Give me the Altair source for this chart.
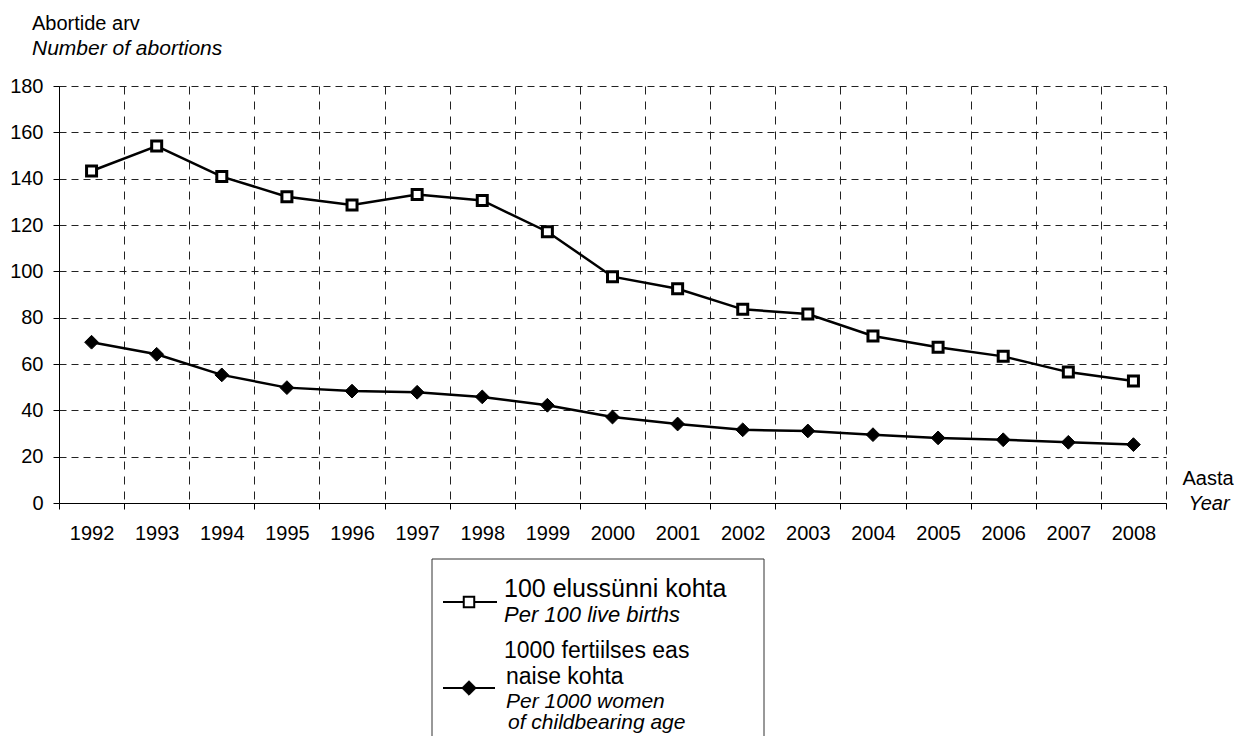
import altair as alt
import pandas as pd

years = list(range(1992, 2009))
per_100_births = [143.3, 154.1, 140.9, 132.2, 128.6, 133.2, 130.6, 117.1, 97.7,
                  92.5, 83.6, 81.6, 72.1, 67.2, 63.3, 56.5, 52.7]
per_1000_women = [69.4, 64.2, 55.3, 49.8, 48.3, 47.8, 45.8, 42.2, 37.1,
                  34.1, 31.6, 31.1, 29.5, 28.1, 27.3, 26.2, 25.2]
y_ticks = list(range(0, 181, 20))

FONT = "Liberation Sans"
W, H = 1107, 417

df1 = pd.DataFrame({"year": years, "value": per_100_births})
df2 = pd.DataFrame({"year": years, "value": per_1000_women})
one = pd.DataFrame({"k": [0]})

bounds = [y - 0.5 for y in years] + [years[-1] + 0.5]
band_px = W / len(years)

x_enc = alt.X(
    "year:Q",
    scale=alt.Scale(domain=[bounds[0], bounds[-1]], nice=False, zero=False),
    axis=alt.Axis(
        values=bounds, title=None, grid=True, gridDash=[8, 7],
        labelExpr=f"datum.value < {years[-1]} ? format(datum.value + 0.5, 'd') : ''",
        labelOffset=band_px / 2, labelFlush=False, labelOverlap=False,
        labelPadding=14, tickSize=6,
    ),
)
y_enc = alt.Y(
    "value:Q",
    scale=alt.Scale(domain=[0, 180], nice=False),
    axis=alt.Axis(values=y_ticks, title=None, grid=True, gridDash=[7, 5],
                  labelPadding=10, tickSize=6, labelFlush=False),
)

line1 = alt.Chart(df1).mark_line(color="black", strokeWidth=2.5).encode(x=x_enc, y=y_enc)
pts1 = alt.Chart(df1).mark_point(shape="square", filled=True, fill="white", stroke="black",
                                 strokeWidth=3, size=100, opacity=1).encode(x=x_enc, y=y_enc)
line2 = alt.Chart(df2).mark_line(color="black", strokeWidth=2.5).encode(x=x_enc, y=y_enc)
pts2 = alt.Chart(df2).mark_point(shape="diamond", filled=True, fill="black", stroke="black",
                                 strokeWidth=1, size=190, opacity=1).encode(x=x_enc, y=y_enc)


def txt(s, x, y, size=20, italic=False, align="left"):
    return alt.Chart(one).mark_text(
        text=s, font=FONT, fontSize=size, fontStyle="italic" if italic else "normal",
        align=align, baseline="alphabetic", color="black",
    ).encode(x=alt.value(x), y=alt.value(y))


titles = [
    txt("Abortide arv", -27, -56, 20),
    txt("Number of abortions", -27, -31, 21, italic=True),
    txt("Aasta", 1149, 399, 20, align="center"),
    txt("Year", 1150, 424, 20, italic=True, align="center"),
]

# legend
box = alt.Chart(one).mark_rect(fill="white", stroke="#333", strokeWidth=1).encode(
    x=alt.value(373), x2=alt.value(705), y=alt.value(473), y2=alt.value(760))
leg_line1 = alt.Chart(one).mark_rule(color="black", strokeWidth=2).encode(
    x=alt.value(384), x2=alt.value(438), y=alt.value(516))
leg_pt1 = alt.Chart(one).mark_point(shape="square", filled=True, fill="white", stroke="black",
                                    strokeWidth=2, size=110, opacity=1).encode(
    x=alt.value(410), y=alt.value(516))
leg_line2 = alt.Chart(one).mark_rule(color="black", strokeWidth=2).encode(
    x=alt.value(384), x2=alt.value(436), y=alt.value(602))
leg_pt2 = alt.Chart(one).mark_point(shape="diamond", filled=True, fill="black", stroke="black",
                                    strokeWidth=1, size=210, opacity=1).encode(
    x=alt.value(410), y=alt.value(602))
leg_texts = [
    txt("100 elussünni kohta", 445, 511, 25),
    txt("Per 100 live births", 445, 536, 22, italic=True),
    txt("1000 fertiilses eas", 445, 572, 23),
    txt("naise kohta", 447, 598, 23),
    txt("Per 1000 women", 447, 622, 21, italic=True),
    txt("of childbearing age", 449, 643, 21, italic=True),
]

chart = alt.layer(
    line1, pts1, line2, pts2, *titles, box, leg_line1, leg_pt1, leg_line2, leg_pt2, *leg_texts
).properties(
    width=W, height=H,
    padding={"left": 51, "top": 78, "right": 68, "bottom": 233},
    autosize=alt.AutoSizeParams(type="none"),
).configure_view(stroke=None).configure_axis(
    labelFont=FONT, labelFontSize=20, labelColor="black",
    domainColor="black", domainWidth=1, tickColor="black", tickWidth=1,
    gridColor="#222", gridWidth=1, gridOpacity=1,
)

chart.save("out.html", embed_options={"renderer": "svg", "actions": False})
